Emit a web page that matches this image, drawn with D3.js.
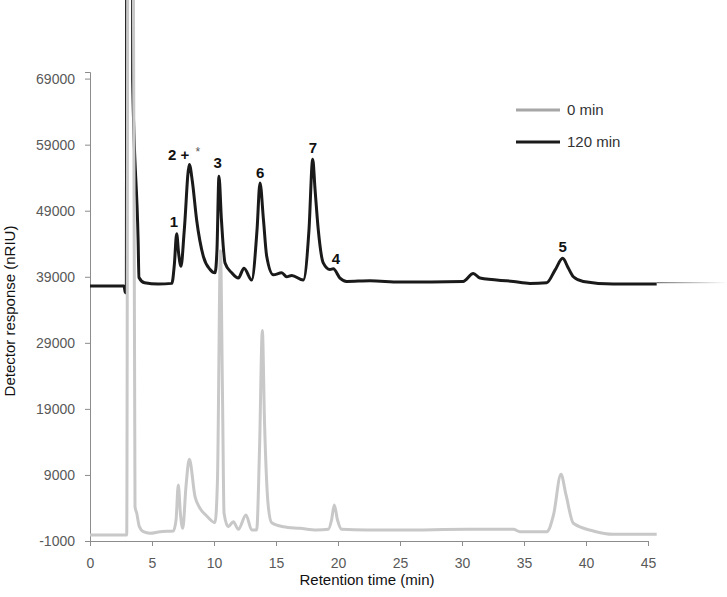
<!DOCTYPE html>
<html>
<head>
<meta charset="utf-8">
<script src="https://cdn.jsdelivr.net/npm/d3@7"></script>
<style>
  body { margin: 0; background: #fff; }
</style>
</head>
<body>
<script>
// Datos del cromatograma (tiempo en min, respuesta en nRIU)
var tiempos120 = [0, 2.74, 2.85, 2.93, 2.98, 3.42, 3.44, 3.88, 3.95, 4.4, 5.5, 6.6, 6.8, 6.99, 7.15, 7.34, 7.6, 8.01, 8.25, 8.6, 9.14, 9.68, 10.08, 10.24, 10.4, 10.6, 10.89, 11.43, 11.96, 12.42, 13.04, 13.47, 13.71, 13.99, 14.25, 14.78, 15.46, 15.86, 16.27, 17.2, 17.66, 17.96, 18.15, 18.41, 18.81, 19.35, 19.62, 20.16, 20.7, 22.58, 25.0, 30.08, 30.91, 31.45, 34.14, 35.48, 36.83, 37.5, 38.12, 38.55, 38.98, 39.78, 42.2, 45.7];
var valores120 = [37600, 37600, 36600, 36600, 150000, 150000, 69000, 44600, 38900, 38100, 37900, 38000, 40800, 45500, 42500, 40600, 46000, 56000, 53500, 47600, 42100, 40100, 39600, 43100, 54200, 47600, 41100, 39600, 38800, 40300, 38500, 46100, 53200, 47600, 42100, 39300, 39600, 39000, 39200, 38500, 46100, 56800, 52200, 46100, 41100, 40100, 40200, 38800, 38300, 38400, 38200, 38300, 39500, 38800, 38300, 38000, 38100, 40000, 41800, 40400, 39000, 38300, 37900, 37900];

var tiempos0 = [0, 2.96, 3.1, 3.39, 3.63, 3.77, 3.98, 4.3, 4.84, 5.65, 6.72, 6.94, 7.12, 7.3, 7.48, 7.74, 8.01, 8.47, 8.87, 9.41, 10.08, 10.28, 10.52, 10.69, 10.81, 11.15, 11.56, 11.96, 12.58, 13.04, 13.44, 13.67, 13.9, 14.07, 14.38, 14.65, 15.59, 16.94, 18.28, 19.22, 19.48, 19.7, 19.96, 20.3, 22.31, 25.0, 30.38, 34.14, 34.68, 36.83, 37.38, 37.98, 38.39, 38.98, 40.59, 42.2, 45.7];
var valores0 = [-100, -100, 150000, 150000, 4200, 3200, 1170, 410, 170, 410, 520, 2200, 7480, 2940, 920, 7230, 11380, 5710, 3950, 2790, 1770, 8240, 42940, 20360, 3200, 1170, 1920, 770, 2940, 670, 670, 12790, 30860, 17330, 4200, 1770, 1170, 920, 670, 770, 2180, 4450, 2180, 770, 670, 670, 770, 770, 410, 410, 2940, 9100, 5970, 1680, 520, 15, 15];

// Etiquetas de los ejes
var ticksY = [-1000, 9000, 19000, 29000, 39000, 49000, 59000, 69000];
var ticksX = [0, 5, 10, 15, 20, 25, 30, 35, 40, 45];

// Leyenda
var leyendaNombres = ["0 min", "120 min"];
var leyendaColores = ["#a6a6a6", "#1a1a1a"];

// Etiquetas de los picos
var picosTexto = ["1", "3", "6", "7", "4", "5"];
var picosTiempo = [6.77, 10.3, 13.73, 17.98, 19.84, 38.12];
var picosValor = [46600, 55400, 54000, 57700, 40900, 42700];

var ancho = 727, alto = 597;

var svg = d3.select("body").append("svg")
            .attr("width", ancho)
            .attr("height", alto)
            .style("font-family", "'Liberation Sans', Arial, sans-serif");

var x = d3.scaleLinear().domain([0, 45]).range([90, 648]);
var y = d3.scaleLinear().domain([-1000, 70000]).range([541, 72]);

// Ejes (con guion normal para los negativos, como en el original)
var ejeY = svg.append("g")
              .attr("transform", "translate(90,0)")
              .call(d3.axisLeft(y).tickValues(ticksY).tickSize(5).tickPadding(10)
                      .tickFormat(function(d) { return String(d); }));
var ejeX = svg.append("g")
              .attr("transform", "translate(0,541)")
              .call(d3.axisBottom(x).tickValues(ticksX).tickSize(5).tickPadding(12));

[ejeY, ejeX].forEach(function(eje) {
    eje.select(".domain").attr("stroke", "#8c8c8c");
    eje.selectAll(".tick line").attr("stroke", "#8c8c8c");
    eje.selectAll(".tick text")
       .attr("fill", "#595959")
       .attr("font-size", "14px")
       .attr("font-family", "'Liberation Sans', Arial, sans-serif");
});

// Títulos de los ejes
svg.append("text")
   .attr("x", 367)
   .attr("y", 585)
   .attr("text-anchor", "middle")
   .attr("font-size", "15px")
   .attr("fill", "#111")
   .text("Retention time (min)");

svg.append("text")
   .attr("transform", "translate(15,311) rotate(-90)")
   .attr("text-anchor", "middle")
   .attr("font-size", "15px")
   .attr("fill", "#111")
   .text("Detector response (nRIU)");

// Trazas
var linea = d3.line()
              .x(function(d) { return x(d[0]); })
              .y(function(d) { return y(d[1]); })
              .curve(d3.curveMonotoneX);

var datos120 = tiempos120.map(function(t, i) { return [t, valores120[i]]; });
var datos0 = tiempos0.map(function(t, i) { return [t, valores0[i]]; });

// Cola difuminada de la traza de 120 min más allá del eje
var grad = svg.append("defs").append("linearGradient")
              .attr("id", "cola")
              .attr("x1", "0").attr("x2", "1").attr("y1", "0").attr("y2", "0");
grad.append("stop").attr("offset", "0").attr("stop-color", "#777");
grad.append("stop").attr("offset", "1").attr("stop-color", "#fff");
var ultimo = datos120[datos120.length - 1];
svg.append("rect")
   .attr("x", x(ultimo[0]))
   .attr("y", y(ultimo[1]) - 2)
   .attr("width", ancho - x(ultimo[0]))
   .attr("height", 1.2)
   .attr("fill", "url(#cola)");

svg.append("path")
   .datum(datos120)
   .attr("d", linea)
   .attr("fill", "none")
   .attr("stroke", "#1a1a1a")
   .attr("stroke-width", 3)
   .attr("stroke-linejoin", "round");

svg.append("path")
   .datum(datos0)
   .attr("d", linea)
   .attr("fill", "none")
   .attr("stroke", "#c8c8c8")
   .attr("stroke-width", 3)
   .attr("stroke-linejoin", "round");

// Etiquetas de los picos
svg.selectAll("text.pico")
   .data(picosTexto)
   .enter().append("text")
   .attr("class", "pico")
   .attr("x", function(d, i) { return x(picosTiempo[i]); })
   .attr("y", function(d, i) { return y(picosValor[i]); })
   .attr("text-anchor", "middle")
   .attr("font-size", "15px")
   .attr("font-weight", "bold")
   .attr("fill", "#111")
   .text(function(d) { return d; });

var etiqueta2 = svg.append("text")
                   .attr("x", x(6.3))
                   .attr("y", y(56700))
                   .attr("font-size", "15px")
                   .attr("font-weight", "bold")
                   .attr("fill", "#111");
etiqueta2.append("tspan").text("2 +");
etiqueta2.append("tspan")
         .attr("dx", 6)
         .attr("dy", -4)
         .attr("font-size", "12px")
         .attr("font-weight", "normal")
         .attr("fill", "#555")
         .text("*");

// Leyenda
var leyenda = svg.selectAll("g.leyenda")
                 .data(leyendaNombres)
                 .enter().append("g")
                 .attr("class", "leyenda")
                 .attr("transform", function(d, i) { return "translate(516," + (110 + i * 32) + ")"; });
leyenda.append("line")
       .attr("x1", 0).attr("x2", 44)
       .attr("stroke", function(d, i) { return leyendaColores[i]; })
       .attr("stroke-width", 3);
leyenda.append("text")
       .attr("x", 51)
       .attr("dy", "0.35em")
       .attr("font-size", "15px")
       .attr("fill", "#333")
       .text(function(d) { return d; });
</script>
</body>
</html>
